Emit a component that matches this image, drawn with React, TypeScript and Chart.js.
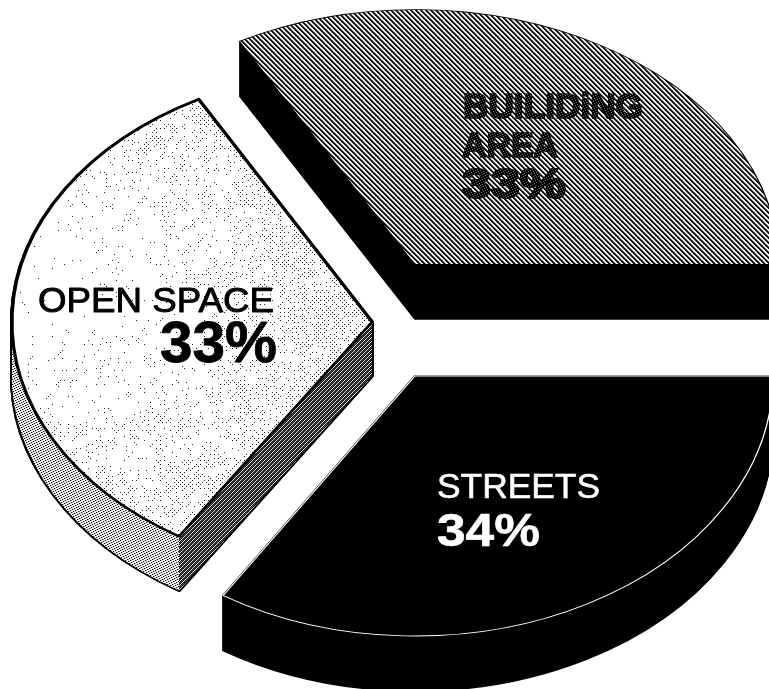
import React, { useEffect, useRef } from "react";
import { Chart, registerables } from "chart.js";

Chart.register(...registerables);

const categories = ["STREETS", "OPEN SPACE", "BUILIDiNG AREA"];
const shares = [34, 33, 33];
const percentLabels = ["34%", "33%", "33%"];

const W = 769;
const H = 689;
const FONT = '"Liberation Sans", Arial, sans-serif';

// Per-slice projection of the flat pie into the tilted, exploded drawing.
const projection = [
  { cx: 415, cy: 376, rx: 358, ry: 260, depth: 55 },
  { cx: 372, cy: 322, rx: 360, ry: 254, depth: 54 },
  { cx: 415, cy: 264, rx: 363, ry: 254, depth: 55 },
];

function tile(w: number, h: number, fn: (x: number, y: number) => number): HTMLCanvasElement {
  const c = document.createElement("canvas");
  c.width = w;
  c.height = h;
  const g = c.getContext("2d")!;
  const img = g.createImageData(w, h);
  for (let y = 0; y < h; y++) {
    for (let x = 0; x < w; x++) {
      const v = fn(x, y);
      const i = (y * w + x) * 4;
      img.data[i] = img.data[i + 1] = img.data[i + 2] = v;
      img.data[i + 3] = 255;
    }
  }
  g.putImageData(img, 0, 0);
  return c;
}

// Deterministic screen texture value for the scanned halftone look.
function grain(x: number, y: number): number {
  const s = Math.sin(x * 12.9898 + y * 78.233) * 43758.5453;
  return s - Math.floor(s);
}

function makeTextures(ctx: CanvasRenderingContext2D) {
  const hatchRow = [20, 20, 120, 255, 230];
  const hatch = tile(10, 10, (x, y) => hatchRow[(x - y + 100) % 5]);
  const textTile = tile(5, 5, (x, y) => ((x + y * 2) % 5 === 0 ? 110 : 0));
  const darkSide = tile(4, 4, (x, y) => ((x + y) % 4 === 0 ? 235 : (x + y) % 4 === 2 ? 70 : 15));
  const lightSide = tile(5, 5, (x, y) => {
    const a = (x + y * 2) % 5;
    return a === 0 ? 10 : a === 1 ? 170 : 245;
  });
  const stipple = tile(W, H, (x, y) => {
    if ((x + y) % 4 !== 0 || (x - y + 4000) % 4 !== 0) return 255;
    const d = Math.min(1.2, Math.hypot(x - 60, y - 300) / 300);
    const wave = 0.7 + 0.3 * Math.sin(x / 23 + y / 31) * Math.sin(y / 17 - x / 41);
    const density = (0.04 + 0.95 * d * d) * wave;
    return grain(x, y) < density ? 30 : 255;
  });
  return {
    hatch: ctx.createPattern(hatch, "repeat")!,
    text: ctx.createPattern(textTile, "repeat")!,
    dark: ctx.createPattern(darkSide, "repeat")!,
    light: ctx.createPattern(lightSide, "repeat")!,
    stipple: ctx.createPattern(stipple, "repeat")!,
  };
}

function paint(
  ctx: CanvasRenderingContext2D,
  arc: any,
  index: number,
  dy: number,
  fill: string | CanvasPattern,
  borderColor: string,
  borderWidth: number,
) {
  const p = projection[index];
  const R = arc.outerRadius;
  const saved = arc.options;
  ctx.save();
  ctx.translate(p.cx, p.cy + dy);
  ctx.scale(p.rx / R, p.ry / R);
  ctx.translate(-arc.x, -arc.y);
  if (typeof fill !== "string") fill.setTransform(ctx.getTransform().inverse());
  arc.options = { ...saved, backgroundColor: fill, borderColor, borderWidth, borderAlign: "center", borderJoinStyle: "round" };
  arc.draw(ctx);
  arc.options = saved;
  ctx.restore();
}

function extrude(ctx: CanvasRenderingContext2D, arc: any, i: number, fill: string | CanvasPattern, bw = 0) {
  for (let dy = projection[i].depth; dy >= 0; dy--) {
    paint(ctx, arc, i, dy, fill, bw ? (fill as string) : "rgba(0,0,0,0)", bw);
  }
}

function drawLabel(
  ctx: CanvasRenderingContext2D,
  text: string,
  x0: number,
  x1: number,
  baseline: number,
  capHeight: number,
  bold: boolean,
  fill: string | CanvasPattern,
  stroke = 0,
  strokeColor = "#000",
) {
  const size = capHeight / 0.7;
  ctx.save();
  ctx.font = `${bold ? "bold " : ""}${size}px ${FONT}`;
  ctx.textAlign = "left";
  ctx.textBaseline = "alphabetic";
  const sx = (x1 - x0) / ctx.measureText(text).width;
  ctx.translate(x0, baseline);
  ctx.scale(sx, 1);
  if (stroke) {
    ctx.lineWidth = stroke;
    ctx.strokeStyle = strokeColor;
    ctx.lineJoin = "round";
    ctx.strokeText(text, 0, 0);
  }
  if (typeof fill !== "string") fill.setTransform(ctx.getTransform().inverse());
  ctx.fillStyle = fill;
  ctx.fillText(text, 0, 0);
  ctx.restore();
}

export default function App() {
  const ref = useRef<HTMLCanvasElement>(null);

  useEffect(() => {
    const canvas = ref.current!;
    const tex = makeTextures(canvas.getContext("2d")!);

    const pie3d = {
      id: "pie3d",
      beforeDatasetDraw(chart: any) {
        const ctx = chart.ctx as CanvasRenderingContext2D;
        const arcs = chart.getDatasetMeta(0).data as any[];

        // Building area
        const b = arcs[2];
        extrude(ctx, b, 2, "#000", 2);
        paint(ctx, b, 2, 0, tex.hatch, "rgba(0,0,0,0)", 0);

        // Open space
        const o = arcs[1];
        const p = projection[1];
        const corner = p.cx + p.rx * Math.cos(o.startAngle);
        extrude(ctx, o, 1, "#000", 4);
        ctx.save();
        ctx.beginPath();
        ctx.rect(0, 0, corner, H);
        ctx.clip();
        extrude(ctx, o, 1, tex.light);
        ctx.restore();
        ctx.save();
        ctx.beginPath();
        ctx.rect(corner, 0, W - corner, H);
        ctx.clip();
        extrude(ctx, o, 1, tex.dark);
        ctx.restore();
        paint(ctx, o, 1, 0, tex.stipple, "#000", 3);

        // Streets
        const s = arcs[0];
        extrude(ctx, s, 0, "#000", 2);
        paint(ctx, s, 0, 0, "#000", "#fff", 1.2);

        // Labels
        const [bWord1, bWord2] = categories[2].split(" ");
        drawLabel(ctx, bWord1, 463, 643, 118, 24, true, tex.text, 1.6);
        drawLabel(ctx, bWord2, 462, 558, 157, 25, true, tex.text, 1.6);
        drawLabel(ctx, percentLabels[2], 462, 566, 198, 30, true, tex.text, 2);
        drawLabel(ctx, categories[1], 38, 274, 312, 24, false, "#000", 0.9, "#000");
        drawLabel(ctx, percentLabels[1], 160, 277, 362, 40, true, "#000", 0.8, "#000");
        drawLabel(ctx, categories[0], 437, 600, 498, 25, false, "#fff", 0.6, "#fff");
        drawLabel(ctx, percentLabels[0], 437, 540, 546, 32, true, "#fff", 0.6, "#fff");
        return false;
      },
    };

    const chart = new Chart(canvas, {
      type: "pie",
      data: {
        labels: categories,
        datasets: [{ data: shares, backgroundColor: ["#000", "#fff", "#888"], borderWidth: 0 }],
      },
      options: {
        responsive: false,
        animation: false,
        rotation: 90,
        layout: { padding: 0 },
        plugins: { legend: { display: false }, tooltip: { enabled: false } },
      },
      plugins: [pie3d],
    } as any);

    return () => chart.destroy();
  }, []);

  return (
    <div style={{ position: "absolute", left: 0, top: 0, width: W, height: H, background: "#fff" }}>
      <canvas ref={ref} width={W} height={H} style={{ display: "block" }} />
    </div>
  );
}
